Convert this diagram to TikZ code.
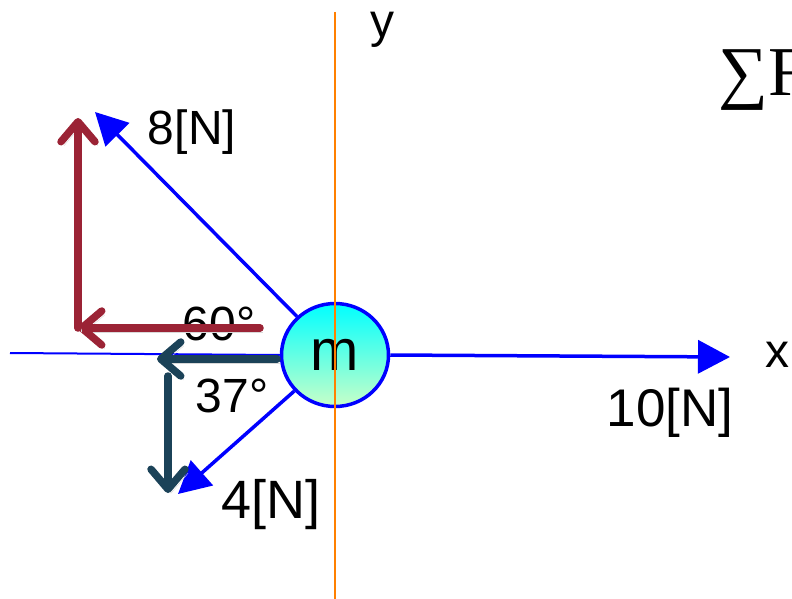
\documentclass[tikz,border=0pt]{standalone}
\usepackage{fontspec}
\setmainfont{Liberation Sans}
\newfontfamily\sumfont{Liberation Serif}
\usetikzlibrary{arrows.meta,shapes.geometric}
\definecolor{forceblue}{RGB}{0,0,255}
\definecolor{compred}{RGB}{155,35,53}
\definecolor{compnavy}{RGB}{27,66,88}
\definecolor{axisorange}{RGB}{255,128,0}
\definecolor{massgreen}{RGB}{200,255,200}

\begin{document}
\begin{tikzpicture}[x=1pt, y=-1pt,
  force/.style={forceblue, line width=3.5pt, -{Triangle[length=32pt,width=33pt]}},
  comp/.style={line width=7.5pt, line cap=round,
    -{Straight Barb[round,length=20pt,width=34pt]},
    preaction={draw=black!15, transform canvas={shift={(3pt,-4pt)}}}},
  lbl/.style={font=\fontsize{48}{50}\selectfont, inner sep=0pt}]
  \useasboundingbox (0,0) rectangle (792,599);

  % Masse
  \node[ellipse, draw=forceblue, line width=3.5pt, minimum width=107pt, minimum height=103pt,
        top color=cyan, bottom color=massgreen, font=\fontsize{58}{60}\selectfont, inner sep=0pt]
        (m) at (335,355) {m};

  % Axes
  \coordinate (xleft) at (10,353);
  \coordinate (xtip) at (730,357);
  \draw[forceblue, line width=2pt] (xleft) -- (m.west);
  \node[lbl] (xlbl) at (777,355) {x};
  \node[lbl] (ylbl) at (382,30) {y};

  % Forces
  \coordinate (tip8) at (95,112);
  \coordinate (tip4) at (178,494);
  \draw[force] (m) -- (tip8);
  \draw[force] (m) -- (tip4);
  \draw[force] (m.east) -- (xtip);

  % Etiquettes
  \node[lbl] (f8) at (192,132) {8[N]};
  \node[lbl, font=\fontsize{54}{56}\selectfont] (f4) at (271,505) {4[N]};
  \node[lbl, font=\fontsize{53}{55}\selectfont] (f10) at (670,413) {10[N]};
  \node[lbl] (a60) at (219,324) {60°};
  \node[lbl] (a37) at (232,396) {37°};

  % Composantes de 8[N]
  \coordinate (r0) at (260,328);
  \coordinate (r1) at (78,328);
  \coordinate (r2) at (78,118);
  \draw[comp, compred] (r0) -- (r1);
  \draw[comp, compred] (r1) -- (r2);

  % Composantes de 4[N]
  \coordinate (n0) at (277,359);
  \coordinate (n1) at (157,359);
  \coordinate (n2) at (168,376);
  \coordinate (n3) at (168,493);
  \draw[comp, compnavy] (n0) -- (n1);
  \draw[comp, compnavy] (n2) -- (n3);

  % Axe y
  \coordinate (ytop) at (335,12);
  \coordinate (ybot) at (335,599);
  \draw[axisorange, line width=2pt] (ytop) -- (ybot);

  % Somme
  \node[font=\sumfont\fontsize{70}{72}\selectfont, anchor=west, inner sep=0pt] (sumF) at (718,80) {∑F};
\end{tikzpicture}
\end{document}
